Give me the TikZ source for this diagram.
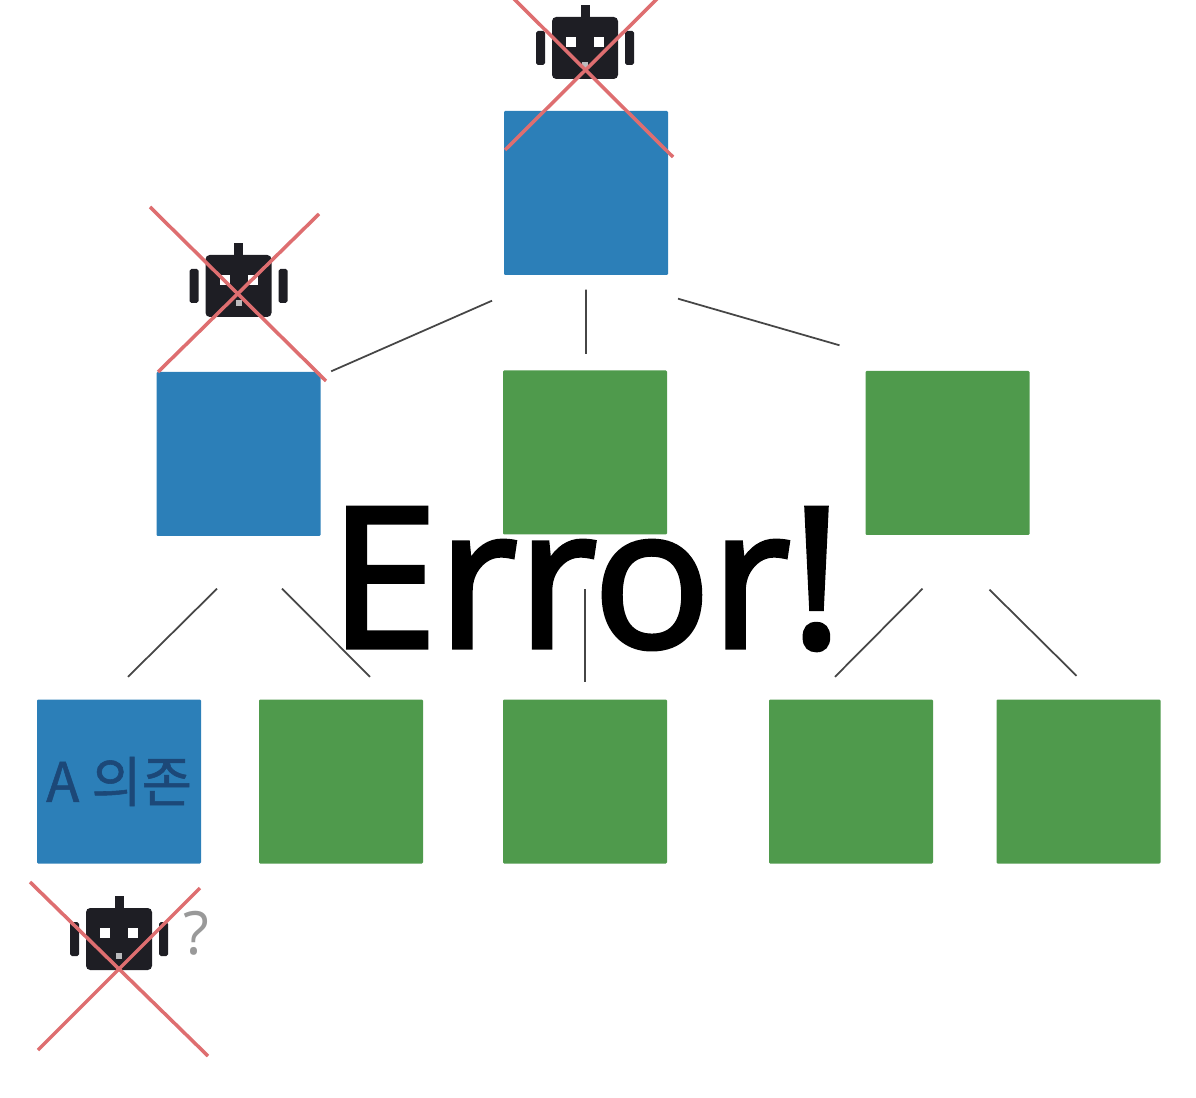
\documentclass[tikz,border=0pt]{standalone}
\usepackage{fontspec}
\setsansfont{Open Sans}
\newfontfamily\krfont[FakeBold=1]{Noto Sans CJK KR}
\newfontfamily\errfont[FakeBold=2.4]{Open Sans}
\usetikzlibrary{positioning}
\definecolor{cblue}{RGB}{44,127,184}
\definecolor{cgreen}{RGB}{79,154,76}
\definecolor{ccross}{RGB}{222,110,112}
\definecolor{cbot}{RGB}{30,30,36}
\definecolor{cedge}{RGB}{70,70,70}
\definecolor{cdep}{RGB}{28,72,120}

\begin{document}
\begin{tikzpicture}[
    box/.style={minimum size=1.64cm, inner sep=0pt, rounded corners=0.3pt},
    bluebox/.style={box, fill=cblue},
    greenbox/.style={box, fill=cgreen},
    edge/.style={cedge, line width=0.5pt},
    xline/.style={ccross, line width=1pt},
    robot/.pic={
      \fill[cbot, rounded corners=1.2pt] (-0.33,-0.31) rectangle (0.33,0.31);
      \fill[cbot] (-0.045,0.3) rectangle (0.045,0.43);
      \fill[cbot, rounded corners=0.5pt] (-0.49,-0.17) rectangle (-0.4,0.17);
      \fill[cbot, rounded corners=0.5pt] (0.4,-0.17) rectangle (0.49,0.17);
      \fill[white] (-0.19,0.01) rectangle (-0.09,0.11);
      \fill[white] (0.09,0.01) rectangle (0.19,0.11);
      \fill[white!70!cbot] (-0.03,-0.2) rectangle (0.03,-0.14);
    }]

  \useasboundingbox (0,0) rectangle (11.96,-10.98);

  % boxes
  \node[bluebox]  (root) at (5.86,-1.93) {};
  \node[bluebox]  (L)    at (2.385,-4.54) {};
  \node[greenbox] (M)    at (5.85,-4.525) {};
  \node[greenbox] (R)    at (9.475,-4.53) {};
  \node[bluebox, font=\fontsize{15.5}{18}\selectfont\krfont, text=cdep] (b1) at (1.19,-7.815) {A 의존};
  \node[greenbox] (b2) at (3.41,-7.815) {};
  \node[greenbox] (b3) at (5.85,-7.815) {};
  \node[greenbox] (b4) at (8.51,-7.815) {};
  \node[greenbox] (b5) at (10.785,-7.815) {};

  % edges
  \draw[edge] ([shift={(-0.94,-0.25)}]root.south) -- ([shift={(0.10,0.00)}]L.north east);
  \draw[edge] ([shift={(0,-0.14)}]root.south) -- ([shift={(0.01,0.16)}]M.north);
  \draw[edge] ([shift={(0.92,-0.23)}]root.south) -- ([shift={(-1.08,0.25)}]R.north);
  \draw[edge] ([shift={(-0.215,-0.52)}]L.south) -- ([shift={(0.09,0.22)}]b1.north);
  \draw[edge] ([shift={(0.435,-0.52)}]L.south) -- ([shift={(0.29,0.22)}]b2.north);
  \draw[edge] ([shift={(0,-0.54)}]M.south) -- ([shift={(0,0.17)}]b3.north);
  \draw[edge] ([shift={(-0.25,-0.53)}]R.south) -- ([shift={(-0.16,0.22)}]b4.north);
  \draw[edge] ([shift={(0.42,-0.54)}]R.south) -- ([shift={(-0.02,0.23)}]b5.north);

  % robots
  \coordinate (bot1) at (5.85,-0.48);
  \coordinate (bot2) at (2.385,-2.86);
  \coordinate (bot3) at (1.19,-9.39);
  \foreach \a in {bot1,bot2,bot3} \pic at (\a) {robot};

  \draw[xline] ([shift={(-0.80,0.58)}]bot1) -- ([shift={(0.88,-1.09)}]bot1);
  \draw[xline] ([shift={(0.81,0.58)}]bot1) -- ([shift={(-0.80,-1.02)}]bot1);
  \draw[xline] ([shift={(-0.885,0.79)}]bot2) -- ([shift={(0.875,-0.95)}]bot2);
  \draw[xline] ([shift={(0.805,0.72)}]bot2) -- ([shift={(-0.805,-0.86)}]bot2);
  \draw[xline] ([shift={(-0.89,0.57)}]bot3) -- ([shift={(0.89,-1.17)}]bot3);
  \draw[xline] ([shift={(0.81,0.51)}]bot3) -- ([shift={(-0.81,-1.11)}]bot3);

  % labels
  \node[text=gray!80, font=\fontsize{17}{20}\selectfont\sffamily, inner sep=0pt] (q) at (1.96,-9.33) {?};
  \node[text=black, font=\fontsize{55.5}{60}\selectfont\errfont, inner sep=0pt] (err) at (5.86,-5.79) {Error!};
\end{tikzpicture}
\end{document}
